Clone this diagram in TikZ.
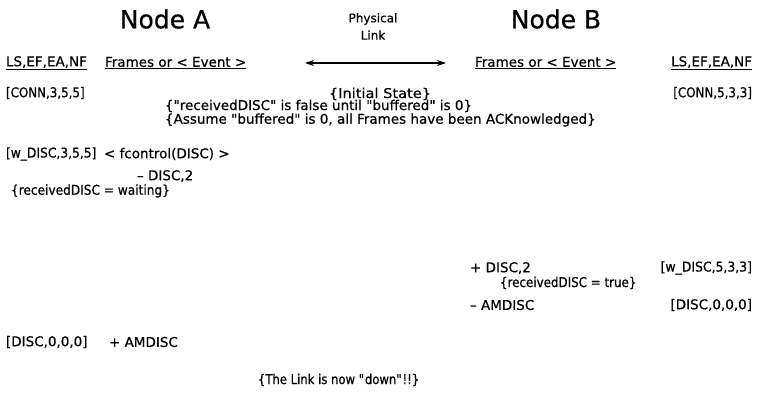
\documentclass[tikz,border=0pt]{standalone}
\usepackage{fontspec}
\setmainfont{DejaVu Sans}[FakeBold=0.6]
\usetikzlibrary{arrows.meta}
\tikzset{
  txt/.style={inner sep=0pt, outer sep=0pt, font=\fontsize{13.5}{15}\selectfont, anchor=west},
  txtr/.style={txt, anchor=east},
  sx/.style={font=\fontsize{13.5}{15}\selectfont\addfontfeature{FakeStretch=#1}},
  title/.style={inner sep=0pt, font=\fontsize{25}{28}\selectfont},
  small/.style={inner sep=0pt, font=\fontsize{12}{14}\selectfont},
  link/.style={line width=1.1pt, {Stealth[length=9pt,width=6pt]}-{Stealth[length=9pt,width=6pt]}}
}
\newcommand{\ul}[1]{\underline{#1}}
\newcommand{\myq}[1]{\textquotedbl #1\textquotedbl}
\begin{document}
\begin{tikzpicture}[x=1pt,y=-1pt]
\useasboundingbox (0,0) rectangle (758,396);
\node[title] (nodeA) at (165,19) {Node A};
\node[title] (nodeB) at (556,19) {Node B};
\node[small] (phys) at (373,19) {Physical};
\node[small] (lnk) at (373,35) {Link};
\node[txt] (lsA) at (6,63) {\ul{LS,EF,EA,NF}};
\node[txt] (frA) at (105,63) {\ul{Frames or < Event >}};
\coordinate (arL) at (305,63);
\coordinate (arR) at (446,63);
\draw[link] (arL) -- (arR);
\node[txt] (frB) at (475,63) {\ul{Frames or < Event >}};
\node[txtr] (lsB) at (752,63) {\ul{LS,EF,EA,NF}};
\node[txt, sx=0.88] (connA) at (6,93) {[CONN,3,5,5]};
\node[txtr, sx=0.88] (connB) at (752,93) {[CONN,5,3,3]};
\node[txt, anchor=center, sx=1.08] (init) at (380,94) {\{Initial State\}};
\node[txt] (recv) at (165,106) {\{\myq{receivedDISC} is false until \myq{buffered} is 0\}};
\node[txt] (assume) at (165,120) {\{Assume \myq{buffered} is 0, all Frames have been ACKnowledged\}};
\node[txt, sx=0.91] (wA) at (6,154) {[w\_DISC,3,5,5]};
\node[txt] (fctl) at (104,154) {< fcontrol(DISC) >};
\node[txt] (discA) at (137,176) {– DISC,2};
\node[txt, sx=0.9] (waitA) at (11,191) {\{receivedDISC = waiting\}};
\node[txt] (plusB) at (470,268) {+ DISC,2};
\node[txtr, sx=0.92] (wB) at (752,268) {[w\_DISC,5,3,3]};
\node[txt, sx=0.88] (trueB) at (500,283) {\{receivedDISC = true\}};
\node[txt] (amdB) at (470,305) {– AMDISC};
\node[txtr] (discB) at (752,305) {[DISC,0,0,0]};
\node[txt] (discA0) at (6,342) {[DISC,0,0,0]};
\node[txt] (amdA) at (109,342) {+ AMDISC};
\node[txt, sx=0.86] (down) at (258,380) {\{The Link is now \myq{down}!!\}};
\end{tikzpicture}
\end{document}
